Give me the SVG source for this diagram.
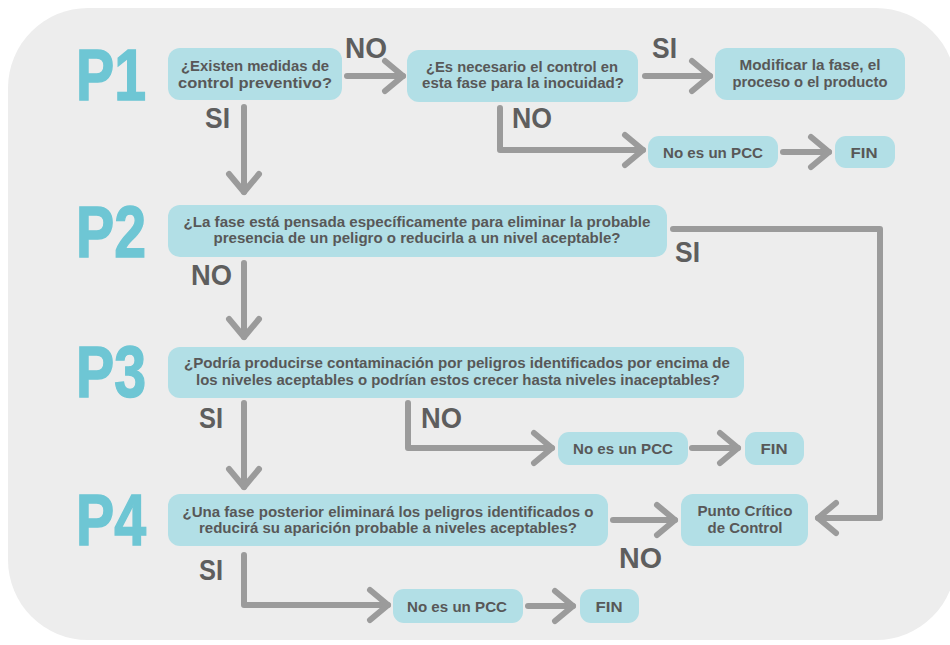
<svg xmlns="http://www.w3.org/2000/svg" width="950" height="645" viewBox="0 0 950 645">
<defs>
<marker id="chev" viewBox="-22 -20 28 40" markerWidth="28" markerHeight="40" refX="0" refY="0" markerUnits="userSpaceOnUse" orient="auto" overflow="visible">
<path d="M-18,-15 L0,0 L-18,15" fill="none" stroke="#9b9b9b" stroke-width="6" stroke-linecap="round" stroke-linejoin="round"/>
</marker>
<style>
.bg{fill:#ededed}
.box{fill:#b2dfe6}
.t{font-family:"Liberation Sans",Arial,sans-serif;font-weight:bold;font-size:15px;fill:#585858;text-anchor:middle}
.p{font-family:"Liberation Sans",Arial,sans-serif;font-weight:bold;font-size:72px;fill:#6ec6d4;stroke:#6ec6d4;stroke-width:1.5}
.lb{font-family:"Liberation Sans",Arial,sans-serif;font-weight:bold;font-size:29px;fill:#5e5e5e}
.c{fill:none;stroke:#9b9b9b;stroke-width:6;stroke-linecap:round;stroke-linejoin:round;marker-end:url(#chev)}
</style>
</defs>
<rect class="bg" x="8" y="8" width="948" height="632" rx="80"/>

<g id="labels-p">
<text class="p" x="76" y="100" textLength="70" lengthAdjust="spacingAndGlyphs">P1</text>
<text class="p" x="76" y="257" textLength="70" lengthAdjust="spacingAndGlyphs">P2</text>
<text class="p" x="76" y="397" textLength="70" lengthAdjust="spacingAndGlyphs">P3</text>
<text class="p" x="76" y="545" textLength="70" lengthAdjust="spacingAndGlyphs">P4</text>
</g>

<g id="connectors">
<path class="c" d="M347,76 H403"/>
<path class="c" d="M244,107 V192"/>
<path class="c" d="M645,76 H710"/>
<path class="c" d="M500,108 V150 H643"/>
<path class="c" d="M783,152 H829"/>
<path class="c" d="M244,263 V337"/>
<path class="c" d="M673,229 H880 V518 H818"/>
<path class="c" d="M244,403 V487"/>
<path class="c" d="M408,403 V448 H552"/>
<path class="c" d="M692,448 H738"/>
<path class="c" d="M613,520 H675"/>
<path class="c" d="M244,555 V605 H388"/>
<path class="c" d="M528,606 H573"/>
<text class="lb" x="345" y="58" textLength="42" lengthAdjust="spacingAndGlyphs">NO</text>
<text class="lb" x="205" y="128" textLength="25" lengthAdjust="spacingAndGlyphs">SI</text>
<text class="lb" x="652" y="58" textLength="25" lengthAdjust="spacingAndGlyphs">SI</text>
<text class="lb" x="512" y="128" textLength="40" lengthAdjust="spacingAndGlyphs">NO</text>
<text class="lb" x="191" y="285" textLength="41" lengthAdjust="spacingAndGlyphs">NO</text>
<text class="lb" x="675" y="262" textLength="25" lengthAdjust="spacingAndGlyphs">SI</text>
<text class="lb" x="199" y="428" textLength="24" lengthAdjust="spacingAndGlyphs">SI</text>
<text class="lb" x="421" y="428" textLength="41" lengthAdjust="spacingAndGlyphs">NO</text>
<text class="lb" x="619" y="568" textLength="43" lengthAdjust="spacingAndGlyphs">NO</text>
<text class="lb" x="199" y="580" textLength="24" lengthAdjust="spacingAndGlyphs">SI</text>
</g>

<g id="p1">
<rect class="box" x="168" y="48" width="174" height="52" rx="12"/>
<text class="t" x="255" y="71" textLength="148" lengthAdjust="spacingAndGlyphs">¿Existen medidas de</text>
<text class="t" x="255" y="88" textLength="154" lengthAdjust="spacingAndGlyphs">control preventivo?</text>
</g>
<g id="p1b">
<rect class="box" x="407" y="50" width="231" height="52" rx="12"/>
<text class="t" x="522" y="72" textLength="192" lengthAdjust="spacingAndGlyphs">¿Es necesario el control en</text>
<text class="t" x="523" y="88" textLength="202" lengthAdjust="spacingAndGlyphs">esta fase para la inocuidad?</text>
</g>
<g id="modificar">
<rect class="box" x="715" y="48" width="190" height="52" rx="12"/>
<text class="t" x="810" y="70" textLength="141" lengthAdjust="spacingAndGlyphs">Modificar la fase, el</text>
<text class="t" x="810" y="87" textLength="155" lengthAdjust="spacingAndGlyphs">proceso o el producto</text>
</g>
<g id="nopcc1">
<rect class="box" x="648" y="136" width="130" height="32" rx="11"/>
<text class="t" x="713" y="158" textLength="100" lengthAdjust="spacingAndGlyphs">No es un PCC</text>
</g>
<g id="fin1">
<rect class="box" x="835" y="136" width="60" height="32" rx="11"/>
<text class="t" x="864" y="158" textLength="27" lengthAdjust="spacingAndGlyphs">FIN</text>
</g>
<g id="p2">
<rect class="box" x="168" y="205" width="499" height="52" rx="12"/>
<text class="t" x="417" y="227" textLength="467" lengthAdjust="spacingAndGlyphs">¿La fase está pensada específicamente para eliminar la probable</text>
<text class="t" x="417" y="243" textLength="407" lengthAdjust="spacingAndGlyphs">presencia de un peligro o reducirla a un nivel aceptable?</text>
</g>
<g id="p3">
<rect class="box" x="168" y="347" width="576" height="51" rx="12"/>
<text class="t" x="457" y="368" textLength="546" lengthAdjust="spacingAndGlyphs">¿Podría producirse contaminación por peligros identificados por encima de</text>
<text class="t" x="458" y="385" textLength="524" lengthAdjust="spacingAndGlyphs">los niveles aceptables o podrían estos crecer hasta niveles inaceptables?</text>
</g>
<g id="nopcc3">
<rect class="box" x="558" y="432" width="130" height="33" rx="11"/>
<text class="t" x="623" y="454" textLength="100" lengthAdjust="spacingAndGlyphs">No es un PCC</text>
</g>
<g id="fin3">
<rect class="box" x="745" y="432" width="59" height="33" rx="11"/>
<text class="t" x="774" y="454" textLength="27" lengthAdjust="spacingAndGlyphs">FIN</text>
</g>
<g id="p4">
<rect class="box" x="168" y="494" width="440" height="52" rx="12"/>
<text class="t" x="388" y="517" textLength="411" lengthAdjust="spacingAndGlyphs">¿Una fase posterior eliminará los peligros identificados o</text>
<text class="t" x="388" y="533" textLength="378" lengthAdjust="spacingAndGlyphs">reducirá su aparición probable a niveles aceptables?</text>
</g>
<g id="pcc">
<rect class="box" x="681" y="494" width="127" height="52" rx="12"/>
<text class="t" x="745" y="516" textLength="95" lengthAdjust="spacingAndGlyphs">Punto Crítico</text>
<text class="t" x="745" y="533" textLength="75" lengthAdjust="spacingAndGlyphs">de Control</text>
</g>
<g id="nopcc4">
<rect class="box" x="393" y="589" width="130" height="34" rx="11"/>
<text class="t" x="457" y="612" textLength="100" lengthAdjust="spacingAndGlyphs">No es un PCC</text>
</g>
<g id="fin4">
<rect class="box" x="580" y="589" width="59" height="34" rx="11"/>
<text class="t" x="609" y="612" textLength="27" lengthAdjust="spacingAndGlyphs">FIN</text>
</g>
</svg>
